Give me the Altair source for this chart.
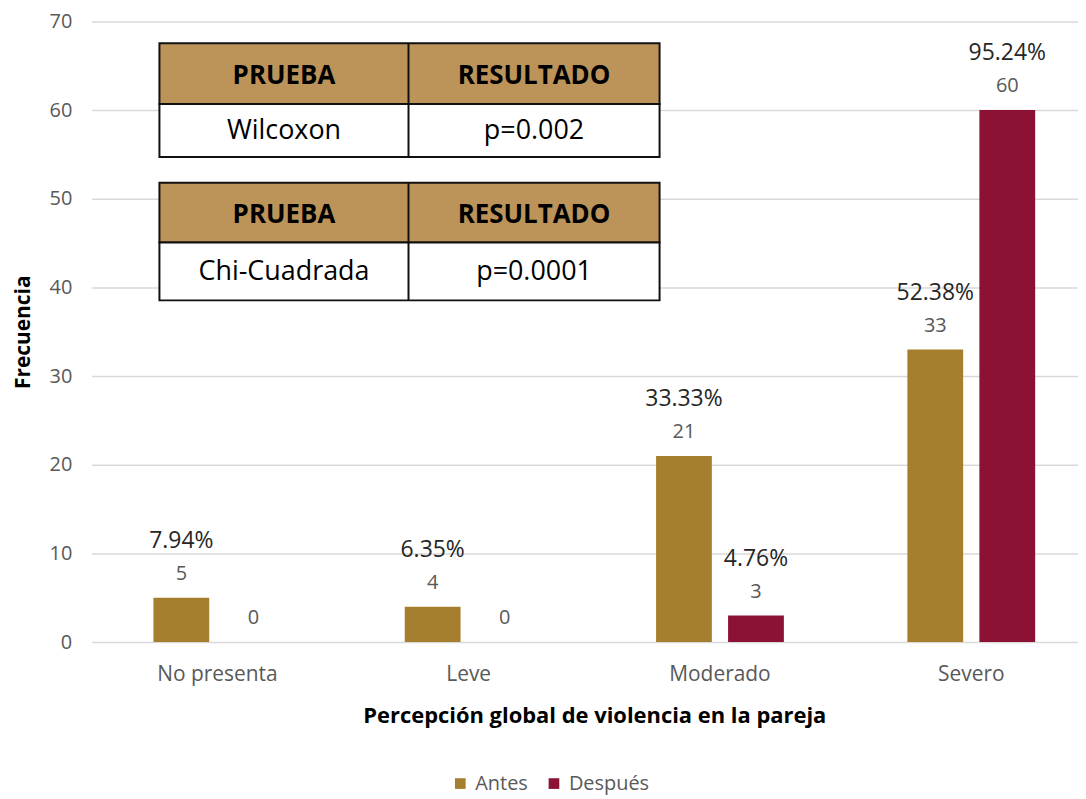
import altair as alt
import pandas as pd

categorias = ["No presenta", "Leve", "Moderado", "Severo"]
series = ["Antes", "Después"]
antes = [5, 4, 21, 33]
despues = [0, 0, 3, 60]
pct_antes = ["7.94%", "6.35%", "33.33%", "52.38%"]
pct_despues = ["", "", "4.76%", "95.24%"]
y_ticks = [0, 10, 20, 30, 40, 50, 60, 70]
colores = ["#A67F2E", "#8B1235"]

tabla1 = ["PRUEBA", "RESULTADO", "Wilcoxon", "p=0.002"]
tabla2 = ["PRUEBA", "RESULTADO", "Chi-Cuadrada", "p=0.0001"]

rows = []
for i, c in enumerate(categorias):
    rows.append({"cat": c, "serie": "Antes", "valor": antes[i], "pct": pct_antes[i]})
    rows.append({"cat": c, "serie": "Después", "valor": despues[i], "pct": pct_despues[i]})
df = pd.DataFrame(rows)

FONT = "Open Sans"
W, H = 990, 623

x_enc = alt.X("cat:N", sort=categorias,
              scale=alt.Scale(range=[0, 1009], paddingInner=0, paddingOuter=0),
              axis=alt.Axis(title="Percepción global de violencia en la pareja",
                            labelAngle=0, labelFontSize=21, labelColor="#595959",
                            labelFont=FONT, labelPadding=22, domain=False, ticks=False,
                            tickSize=0,
                            titleFont=FONT, titleFontSize=22, titleFontWeight="bold",
                            titleColor="#000000", titlePadding=21, grid=False))
xoff = alt.XOffset("serie:N", sort=series,
                   scale=alt.Scale(paddingInner=0.222, paddingOuter=0.856))
y_enc = alt.Y("valor:Q", scale=alt.Scale(domain=[0, 70]),
              axis=alt.Axis(values=y_ticks, title="Frecuencia", domain=False, ticks=False,
                            tickSize=0,
                            labelFontSize=20, labelColor="#595959", labelFont=FONT,
                            labelPadding=20, gridColor="#d9d9d9", gridWidth=1.5,
                            titleFont=FONT, titleFontSize=21, titleFontWeight="bold",
                            titleColor="#000000", titlePadding=16))

base = alt.Chart(df)

bars = base.mark_bar(size=56).encode(
    x=x_enc, xOffset=xoff, y=y_enc,
    color=alt.Color("serie:N", sort=series,
                    scale=alt.Scale(domain=series, range=colores),
                    legend=alt.Legend(title=None, orient="none", direction="horizontal",
                                      legendX=360, legendY=755, symbolType="square",
                                      symbolSize=115, symbolStrokeWidth=0,
                                      labelFontSize=20, labelFont=FONT,
                                      labelColor="#595959",
                                      labelOffset=5, labelLimit=200)),
)

counts = base.mark_text(dy=-24, fontSize=20, font=FONT, color="#595959").encode(
    x=x_enc, xOffset=xoff, y=y_enc, text="valor:Q")

pcts = base.mark_text(dy=-57, fontSize=23, font=FONT, color="#262626").encode(
    x=x_enc, xOffset=xoff, y=y_enc, text="pct:N")


def make_table(texts, top, mid, bottom):
    one = pd.DataFrame({"t": [0]})
    left, div, right = 68, 318, 570
    layers = []
    layers.append(alt.Chart(one).mark_rect(fill="#BC9359", stroke="#111111", strokeWidth=2).encode(
        x=alt.value(left), x2=alt.value(right), y=alt.value(top), y2=alt.value(mid)))
    layers.append(alt.Chart(one).mark_rect(fill="#ffffff", stroke="#111111", strokeWidth=2).encode(
        x=alt.value(left), x2=alt.value(right), y=alt.value(mid), y2=alt.value(bottom)))
    layers.append(alt.Chart(one).mark_rule(color="#111111", strokeWidth=2).encode(
        x=alt.value(div), y=alt.value(top), y2=alt.value(bottom)))
    cx = [(left + div) / 2, (div + right) / 2]
    for j in range(2):
        layers.append(alt.Chart(pd.DataFrame({"t": [texts[j]]})).mark_text(
            font=FONT, fontSize=26, fontWeight="bold", color="#000000", baseline="middle").encode(
            x=alt.value(cx[j]), y=alt.value((top + mid) / 2 + 2), text="t:N"))
        layers.append(alt.Chart(pd.DataFrame({"t": [texts[j + 2]]})).mark_text(
            font=FONT, fontSize=27, color="#000000", baseline="middle").encode(
            x=alt.value(cx[j]), y=alt.value((mid + bottom) / 2 + 1), text="t:N"))
    return layers


t1 = make_table(tabla1, 22, 83, 136)
t2 = make_table(tabla2, 162, 222, 280)

chart = alt.layer(bars, counts, pcts, *t1, *t2).properties(
    width=W, height=H,
    autosize=alt.AutoSizeParams(type="none"),
    padding={"left": 84, "top": 12, "right": 0, "bottom": 152},
    background="white",
).configure_view(stroke=None).configure_legend(columnPadding=16)

chart.save("out.html", embed_options={"renderer": "svg", "actions": False})
